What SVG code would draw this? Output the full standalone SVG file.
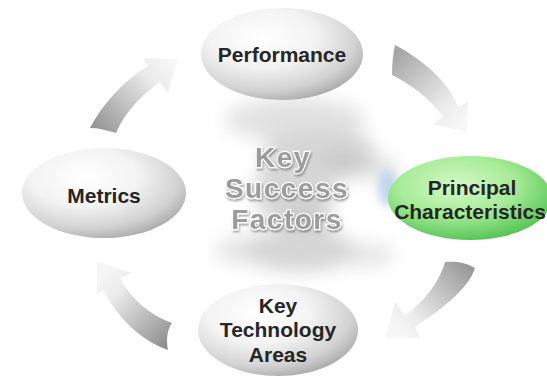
<svg xmlns="http://www.w3.org/2000/svg" width="547" height="379" viewBox="0 0 547 379">
  <defs>
    <radialGradient id="greyOrb" cx="38%" cy="32%" r="72%">
      <stop offset="0" stop-color="#ffffff"/>
      <stop offset="0.45" stop-color="#f3f3f3"/>
      <stop offset="0.8" stop-color="#d2d2d2"/>
      <stop offset="1" stop-color="#ababab"/>
    </radialGradient>
    <radialGradient id="greenOrb" cx="42%" cy="35%" r="70%">
      <stop offset="0" stop-color="#d4f7c8"/>
      <stop offset="0.5" stop-color="#a8ec98"/>
      <stop offset="1" stop-color="#4fc050"/>
    </radialGradient>
    <linearGradient id="arrowTL" x1="95" y1="130" x2="170" y2="62" gradientUnits="userSpaceOnUse">
      <stop offset="0" stop-color="#949494"/>
      <stop offset="0.75" stop-color="#ebebeb"/>
      <stop offset="1" stop-color="#f6f6f6"/>
    </linearGradient>
    <linearGradient id="arrowTR" x1="392" y1="55" x2="460" y2="125" gradientUnits="userSpaceOnUse">
      <stop offset="0" stop-color="#a4a4a4"/>
      <stop offset="0.75" stop-color="#ececec"/>
      <stop offset="1" stop-color="#f7f7f7"/>
    </linearGradient>
    <linearGradient id="arrowBR" x1="462" y1="262" x2="395" y2="330" gradientUnits="userSpaceOnUse">
      <stop offset="0" stop-color="#9a9a9a"/>
      <stop offset="0.75" stop-color="#ececec"/>
      <stop offset="1" stop-color="#f7f7f7"/>
    </linearGradient>
    <linearGradient id="arrowBL" x1="172" y1="340" x2="105" y2="272" gradientUnits="userSpaceOnUse">
      <stop offset="0" stop-color="#8e8e8e"/>
      <stop offset="0.75" stop-color="#ebebeb"/>
      <stop offset="1" stop-color="#f6f6f6"/>
    </linearGradient>
    <filter id="smoke" x="-50%" y="-50%" width="200%" height="200%">
      <feGaussianBlur stdDeviation="9"/>
    </filter>
    <filter id="glow" x="-50%" y="-50%" width="200%" height="200%">
      <feGaussianBlur stdDeviation="5"/>
    </filter>
    <filter id="titleShadow" x="-10%" y="-20%" width="120%" height="150%">
      <feGaussianBlur in="SourceAlpha" stdDeviation="1"/>
      <feOffset dx="1" dy="1.5" result="sh"/>
      <feComponentTransfer in="sh" result="shade">
        <feFuncA type="linear" slope="0.35"/>
      </feComponentTransfer>
      <feMerge>
        <feMergeNode in="shade"/>
        <feMergeNode in="SourceGraphic"/>
      </feMerge>
    </filter>
  </defs>
  <style>
    .node-label { font-family: "Liberation Sans", Arial, sans-serif; font-weight: bold; font-size: 21px; fill: #262626; text-anchor: middle; }
    .title { font-family: "Liberation Sans", Arial, sans-serif; font-weight: bold; font-size: 28px; fill: #9c9c9c; text-anchor: middle; letter-spacing: 1.5px; stroke: #ffffff; stroke-width: 2.5px; paint-order: stroke; }
    .puff { fill: #cfcfcf; }
  </style>

  <rect width="547" height="379" fill="#ffffff"/>

  <!-- hazy cloud column behind the centre title -->
  <g id="cloud" filter="url(#smoke)" opacity="0.85">
    <ellipse class="puff" cx="295" cy="120" rx="70" ry="22" opacity="0.7"/>
    <ellipse class="puff" cx="320" cy="150" rx="55" ry="22"/>
    <ellipse cx="345" cy="165" rx="30" ry="12" fill="#bdbdbd"/>
    <ellipse class="puff" cx="375" cy="168" rx="25" ry="10" opacity="0.8"/>
    <ellipse class="puff" cx="295" cy="190" rx="40" ry="40"/>
    <ellipse cx="305" cy="220" rx="25" ry="14" fill="#c2c2c2"/>
    <ellipse class="puff" cx="300" cy="250" rx="55" ry="22"/>
    <ellipse class="puff" cx="245" cy="250" rx="30" ry="15" opacity="0.6"/>
    <ellipse class="puff" cx="365" cy="255" rx="30" ry="12" opacity="0.6"/>
  </g>
  <ellipse cx="388" cy="188" rx="10" ry="18" fill="#a9c4e8" opacity="0.7" filter="url(#glow)"/>

  <!-- curved arrows between the four factors -->
  <g id="connectors">
    <path d="M90,128 C102,105 122,82 148,66 L143,58 L178,59 L168,93 L160,82 C140,96 124,114 116,133 C106,130 98,128 90,128 Z" fill="url(#arrowTL)"/>
    <path d="M395,45 C420,58 448,80 458,107 L468,102 L467,132 L433,124 L443,117 C430,98 410,84 392,75 C392,64 393,54 395,45 Z" fill="url(#arrowTR)"/>
    <path d="M445,262 C440,280 425,302 405,315 L395,302 L385,338 L420,338 L415,327 C440,310 468,290 475,268 C465,262 455,261 445,262 Z" fill="url(#arrowBR)"/>
    <path d="M172,323 C150,315 132,300 120,278 L132,273 L97,262 L97,295 L103,290 C118,318 140,340 168,350 C166,340 167,330 172,323 Z" fill="url(#arrowBL)"/>
  </g>

  <g id="performance">
    <ellipse cx="282" cy="54" rx="81" ry="46" fill="url(#greyOrb)"/>
    <text class="node-label" x="282" y="62">Performance</text>
  </g>

  <g id="principal-characteristics">
    <ellipse cx="470" cy="198" rx="82" ry="42" fill="url(#greenOrb)"/>
    <text class="node-label" x="472" y="195">Principal</text>
    <text class="node-label" x="470" y="219">Characteristics</text>
  </g>

  <g id="key-technology-areas">
    <ellipse cx="278" cy="330" rx="80" ry="46" fill="url(#greyOrb)"/>
    <text class="node-label" x="278" y="313">Key</text>
    <text class="node-label" x="278" y="337">Technology</text>
    <text class="node-label" x="278" y="362">Areas</text>
  </g>

  <g id="metrics">
    <ellipse cx="104" cy="193" rx="82" ry="45" fill="url(#greyOrb)"/>
    <text class="node-label" x="104" y="203">Metrics</text>
  </g>

  <g id="key-success-factors" filter="url(#titleShadow)">
    <text class="title" x="283" y="167">Key</text>
    <text class="title" x="287" y="198">Success</text>
    <text class="title" x="287" y="229">Factors</text>
  </g>
</svg>
